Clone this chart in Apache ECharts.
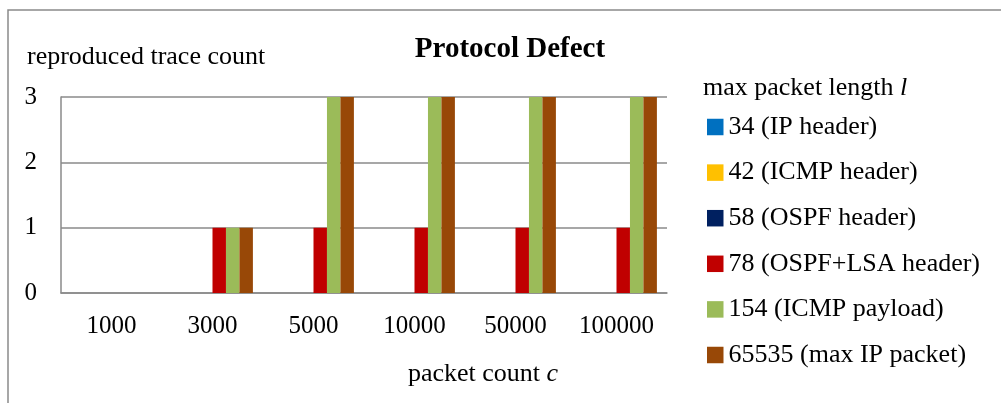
<!DOCTYPE html>
<html>
<head>
<meta charset="utf-8">
<script src="https://cdn.jsdelivr.net/npm/echarts@6/dist/echarts.min.js"></script>
<style>
html,body{margin:0;padding:0;background:#fff;}
#chart{width:1001px;height:403px;}
</style>
</head>
<body>
<div id="chart"></div>
<script>
const categories = ['1000', '3000', '5000', '10000', '50000', '100000'];
const seriesNames = ['34 (IP header)', '42 (ICMP header)', '58 (OSPF header)', '78 (OSPF+LSA header)', '154 (ICMP payload)', '65535 (max IP packet)'];
const s34 = [0, 0, 0, 0, 0, 0];
const s42 = [0, 0, 0, 0, 0, 0];
const s58 = [0, 0, 0, 0, 0, 0];
const s78 = [0, 1, 1, 1, 1, 1];
const s154 = [0, 1, 3, 3, 3, 3];
const s65535 = [0, 1, 3, 3, 3, 3];
const colors = ['#0070C0', '#FFC000', '#002060', '#C00000', '#9BBB59', '#984807'];
const allData = [s34, s42, s58, s78, s154, s65535];

const FONT = '"Liberation Serif", "Times New Roman", serif';
const chart = echarts.init(document.getElementById('chart'));
chart.setOption({
  animation: false,
  color: colors,
  grid: { left: 61, right: 334, top: 97, bottom: 110, containLabel: false },
  legend: {
    orient: 'vertical',
    left: 707,
    top: 114,
    padding: 0,
    itemWidth: 16.5,
    itemHeight: 16.5,
    itemGap: 19.6,
    icon: 'rect',
    selectedMode: false,
    textStyle: { fontFamily: FONT, fontSize: 26, color: '#000', lineHeight: 26, padding: [0, 0, 0, 0] },
    data: seriesNames
  },
  xAxis: {
    type: 'category',
    data: categories,
    axisLine: { show: true, lineStyle: { color: '#8a8a8a', width: 1.5 } },
    axisTick: { show: false },
    axisLabel: { fontFamily: FONT, fontSize: 25, color: '#000', margin: 21 }
  },
  yAxis: {
    type: 'value',
    min: 0, max: 3, interval: 1,
    axisLine: { show: true, lineStyle: { color: '#8a8a8a', width: 1.5 } },
    axisTick: { show: false },
    splitLine: { show: true, lineStyle: { color: '#8a8a8a', width: 1.5 } },
    axisLabel: { fontFamily: FONT, fontSize: 25, color: '#000', margin: 24 }
  },
  series: seriesNames.map((n, i) => ({
    name: n,
    type: 'bar',
    data: allData[i],
    barGap: '0%',
    barCategoryGap: '20%',
    itemStyle: { color: colors[i] }
  })),
  graphic: [
    { type: 'rect', shape: { x: 8, y: 10, width: 1010, height: 420 }, style: { fill: 'none', stroke: '#8a8a8a', lineWidth: 1.5 }, silent: true },
    { type: 'text', style: { text: 'Protocol Defect', x: 510, y: 50, textAlign: 'center', textVerticalAlign: 'middle', font: 'bold 29px ' + FONT, fill: '#000' } },
    { type: 'text', style: { text: 'reproduced trace count', x: 27, y: 57, textAlign: 'left', textVerticalAlign: 'middle', font: '26px ' + FONT, fill: '#000' } },
    { type: 'text', style: { text: '{n|packet count }{i|c}', x: 483, y: 374, textAlign: 'center', textVerticalAlign: 'middle', fill: '#000',
        rich: { n: { fontFamily: FONT, fontSize: 26, color: '#000' }, i: { fontFamily: FONT, fontSize: 26, fontStyle: 'italic', color: '#000' } } } },
    { type: 'text', style: { text: '{n|max packet length }{i|l}', x: 703, y: 88, textAlign: 'left', textVerticalAlign: 'middle', fill: '#000',
        rich: { n: { fontFamily: FONT, fontSize: 26, color: '#000' }, i: { fontFamily: FONT, fontSize: 26, fontStyle: 'italic', color: '#000' } } } }
  ]
});
</script>
</body>
</html>
